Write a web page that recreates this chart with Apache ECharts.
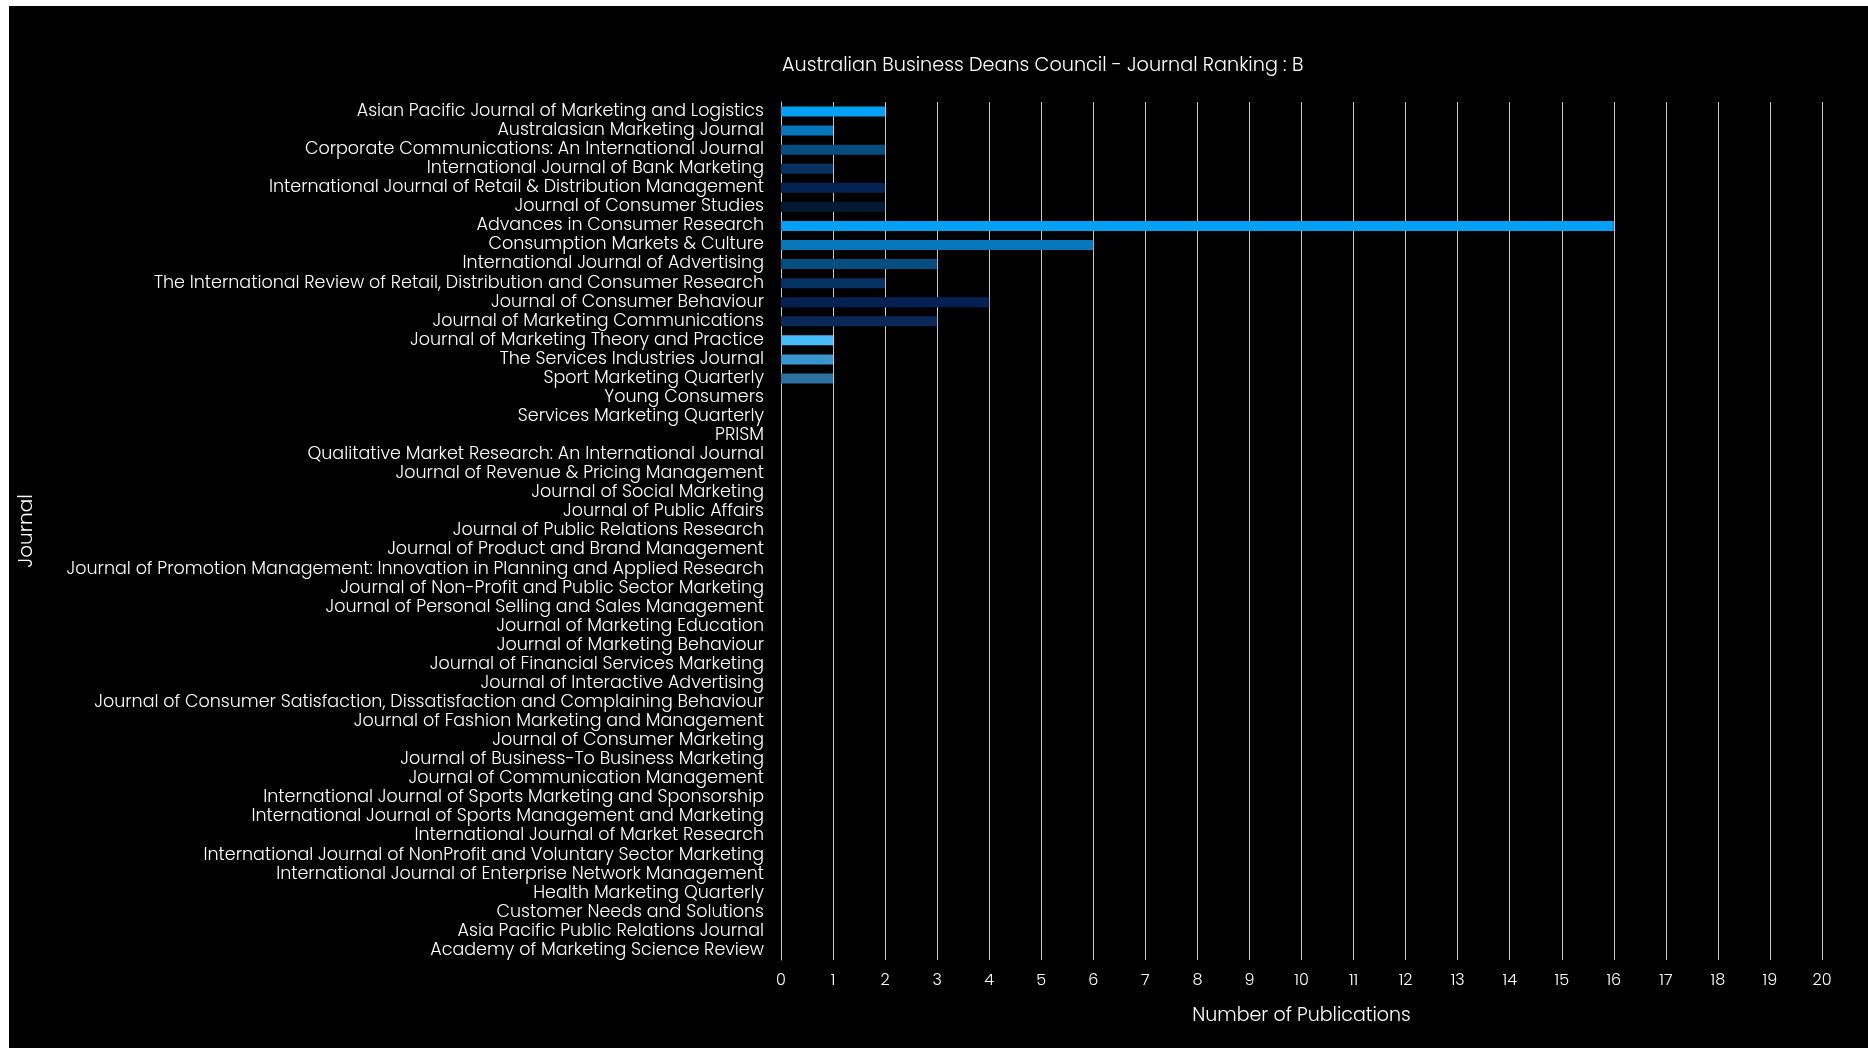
<!DOCTYPE html>
<html>
<head>
<meta charset="utf-8">
<script src="https://cdn.jsdelivr.net/npm/echarts@6/dist/echarts.min.js"></script>
<style>
  html, body { margin: 0; padding: 0; background: #fff; width: 1868px; height: 1048px; overflow: hidden; }
  #chart { position: absolute; left: 9px; top: 6px; width: 1859px; height: 1042px; background: #000; }
</style>
</head>
<body>
<div id="chart"></div>
<script>
const journals = [
  'Asian Pacific Journal of Marketing and Logistics',
  'Australasian Marketing Journal',
  'Corporate Communications: An International Journal',
  'International Journal of Bank Marketing',
  'International Journal of Retail & Distribution Management',
  'Journal of Consumer Studies',
  'Advances in Consumer Research',
  'Consumption Markets & Culture',
  'International Journal of Advertising',
  'The International Review of Retail, Distribution and Consumer Research',
  'Journal of Consumer Behaviour',
  'Journal of Marketing Communications',
  'Journal of Marketing Theory and Practice',
  'The Services Industries Journal',
  'Sport Marketing Quarterly',
  'Young Consumers',
  'Services Marketing Quarterly',
  'PRISM',
  'Qualitative Market Research: An International Journal',
  'Journal of Revenue & Pricing Management',
  'Journal of Social Marketing',
  'Journal of Public Affairs',
  'Journal of Public Relations Research',
  'Journal of Product and Brand Management',
  'Journal of Promotion Management: Innovation in Planning and Applied Research',
  'Journal of Non-Profit and Public Sector Marketing',
  'Journal of Personal Selling and Sales Management',
  'Journal of Marketing Education',
  'Journal of Marketing Behaviour',
  'Journal of Financial Services Marketing',
  'Journal of Interactive Advertising',
  'Journal of Consumer Satisfaction, Dissatisfaction and Complaining Behaviour',
  'Journal of Fashion Marketing and Management',
  'Journal of Consumer Marketing',
  'Journal of Business-To Business Marketing',
  'Journal of Communication Management',
  'International Journal of Sports Marketing and Sponsorship',
  'International Journal of Sports Management and Marketing',
  'International Journal of Market Research',
  'International Journal of NonProfit and Voluntary Sector Marketing',
  'International Journal of Enterprise Network Management',
  'Health Marketing Quarterly',
  'Customer Needs and Solutions',
  'Asia Pacific Public Relations Journal',
  'Academy of Marketing Science Review'
]

const publications = [2, 1, 2, 1, 2, 2, 16, 6, 3, 2, 4, 3, 1, 1, 1,
  0, 0, 0, 0, 0, 0, 0, 0, 0, 0, 0, 0, 0, 0, 0,
  0, 0, 0, 0, 0, 0, 0, 0, 0, 0, 0, 0, 0, 0, 0]

const barColors = ['#02a0f2', '#0677ba', '#074e80', '#063261', '#052253', '#031a35',
  '#02a0f4', '#0677ba', '#074e80', '#063261', '#052053', '#0a2858',
  '#48bcfa', '#3895d0', '#2d71a1']

const chart = echarts.init(document.getElementById('chart'))
const font = 'Poppins, "Open Sans", sans-serif'

chart.setOption({
  backgroundColor: '#000',
  animation: false,
  textStyle: { fontFamily: font, fontWeight: 300 },
  title: {
    text: 'Australian Business Deans Council - Journal Ranking : B',
    left: 768,
    top: 46,
    textStyle: { color: '#fff', fontSize: 19.2, fontWeight: 300, fontFamily: font }
  },
  grid: { left: 769, right: 46, top: 96, bottom: 88, containLabel: false },
  xAxis: {
    type: 'value',
    min: 0,
    max: 20,
    interval: 1,
    name: 'Number of Publications',
    nameLocation: 'middle',
    nameGap: 47,
    nameTextStyle: { color: '#fff', fontSize: 19, fontWeight: 300, fontFamily: font },
    axisLine: { show: false },
    axisTick: { show: false },
    axisLabel: { color: '#fff', fontSize: 16, fontWeight: 300, margin: 13, fontFamily: font },
    splitLine: { show: true, lineStyle: { color: '#c8c8c8', width: 1 } }
  },
  yAxis: {
    type: 'category',
    inverse: true,
    data: journals,
    name: 'Journal',
    nameLocation: 'middle',
    nameGap: 744,
    nameTextStyle: { color: '#fff', fontSize: 20, fontWeight: 300, fontFamily: font },
    axisLine: { show: true, lineStyle: { color: '#c8c8c8', width: 1 } },
    axisTick: { show: false },
    axisLabel: { color: '#fff', fontSize: 17.5, fontWeight: 300, margin: 17, interval: 0, fontFamily: font }
  },
  series: [{
    type: 'bar',
    barWidth: 10,
    data: publications.map((v, i) => ({
      value: v,
      itemStyle: { color: barColors[i] || '#02a0f2' }
    }))
  }]
})
</script>
</body>
</html>
